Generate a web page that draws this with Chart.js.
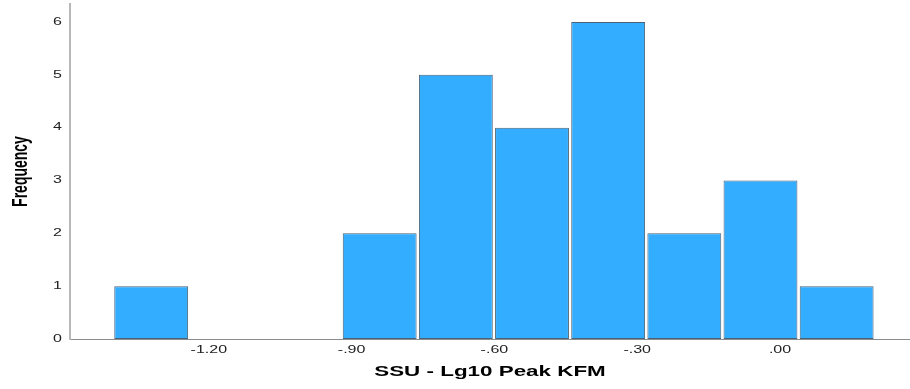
<!DOCTYPE html>
<html>
<head>
<meta charset="utf-8">
<script src="https://cdn.jsdelivr.net/npm/chart.js@4"></script>
<style>
  html, body { margin: 0; padding: 0; background: #fff; }
  #wrap { width: 910px; height: 389px; }
</style>
</head>
<body>
<div id="wrap"><canvas id="hist"></canvas></div>
<script>
// Histogram of SSU - Lg10 Peak KFM (bin width 0.16)
const binCenters = [-1.321, -1.161, -1.001, -0.841, -0.681, -0.521, -0.361, -0.201, -0.041, 0.119];
const counts = [1, 0, 0, 2, 5, 4, 6, 2, 3, 1];
const xTicks = [-1.2, -0.9, -0.6, -0.3, 0];
const yTicks = [0, 1, 2, 3, 4, 5, 6];

const FONT = "'Liberation Sans', Arial, sans-serif";
const STRETCH = 1.6; // the source picture has its text stretched sideways

const canvas = document.getElementById('hist');
const ctx = canvas.getContext('2d');

// stretch every text draw horizontally (in device space) around its anchor
const origFillText = ctx.fillText.bind(ctx);
ctx.fillText = function (text, x, y, maxWidth) {
  const T = this.getTransform();
  const p = T.transformPoint({ x: x, y: y });
  const S = new DOMMatrix().translate(p.x, p.y).scale(STRETCH, 1).translate(-p.x, -p.y);
  this.setTransform(S.multiply(T));
  if (maxWidth === undefined) origFillText(text, x, y);
  else origFillText(text, x, y, maxWidth);
  this.setTransform(T);
};

const fmtTick = (v) => v.toFixed(2).replace(/^(-?)0\./, '$1.');

const whiteBg = {
  id: 'whiteBg',
  beforeDraw(chart) {
    const c = chart.ctx;
    c.save();
    c.fillStyle = '#fff';
    c.fillRect(0, 0, chart.width, chart.height);
    c.restore();
  }
};

new Chart(ctx, {
  type: 'bar',
  plugins: [whiteBg],
  data: {
    datasets: [{
      data: binCenters.map((x, i) => ({ x: x, y: counts[i] === 0 ? null : counts[i] })),
      backgroundColor: '#33adff',
      borderColor: '#4a6275',
      borderWidth: 1,
      borderSkipped: false,
      categoryPercentage: 1,
      barPercentage: 0.97
    }]
  },
  options: {
    responsive: true,
    maintainAspectRatio: false,
    animation: false,
    layout: { padding: { top: 4, right: 0, left: 0, bottom: 0 } },
    plugins: { legend: { display: false }, tooltip: { enabled: false } },
    scales: {
      x: {
        type: 'linear',
        offset: false,
        min: -1.4916,
        max: 0.2731,
        grid: { display: false, drawTicks: false, offset: false },
        border: { display: true, color: '#8c8c8c', width: 1 },
        afterBuildTicks: (s) => { s.ticks = xTicks.map(v => ({ value: v })); },
        afterFit: (s) => { s.height = 50; s.paddingLeft = 0; s.paddingRight = 0; },
        ticks: {
          padding: 5,
          color: '#222',
          font: { family: FONT, size: 10 },
          maxRotation: 0,
          autoSkip: false,
          callback: (v) => fmtTick(v)
        },
        title: {
          display: true,
          text: 'SSU - Lg10 Peak KFM',
          color: '#000',
          font: { family: FONT, size: 14, weight: 'bold' },
          padding: { top: 0, bottom: 8 }
        }
      },
      y: {
        min: 0,
        max: 6.34,
        grid: { display: false, drawTicks: false },
        border: { display: true, color: '#b8b8b8', width: 2 },
        afterBuildTicks: (s) => { s.ticks = yTicks.map(v => ({ value: v })); },
        afterFit: (s) => { s.width = 70; s.paddingTop = 0; s.paddingBottom = 0; },
        ticks: {
          padding: 8,
          color: '#222',
          font: { family: FONT, size: 10 },
          callback: (v) => String(v)
        },
        title: {
          display: true,
          text: 'Frequency',
          color: '#000',
          font: { family: FONT, size: 14, weight: 'bold' },
          padding: { top: 12, bottom: 0 }
        }
      }
    }
  }
});
</script>
</body>
</html>
